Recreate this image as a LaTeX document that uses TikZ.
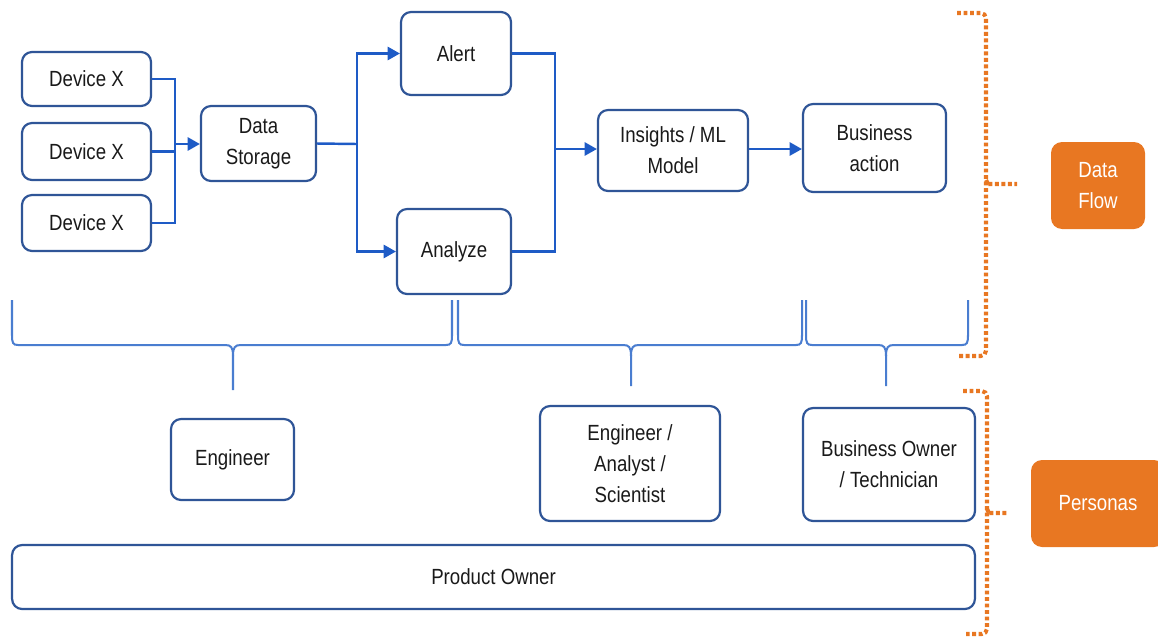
\documentclass[tikz,border=0pt]{standalone}
\usepackage{fontspec}
\setmainfont[FakeStretch=0.85]{Liberation Sans}
\usetikzlibrary{arrows.meta}
\definecolor{boxblue}{HTML}{2F5597}
\definecolor{linkblue}{HTML}{1E5BC6}
\definecolor{braceblue}{HTML}{4A7DD0}
\definecolor{persorange}{HTML}{E87722}
\definecolor{txt}{HTML}{1A1A1A}
\tikzset{
  box/.style={draw=boxblue, line width=1.25pt, rounded corners=0.2cm, fill=white,
    text=txt, align=center, font=\fontsize{12.5}{17.5}\selectfont, inner sep=2pt},
  tag/.style={fill=persorange, rounded corners=0.22cm, text=white, align=center,
    font=\fontsize{12.5}{17.5}\selectfont},
  link/.style={draw=linkblue, line width=1.4pt},
  arr/.style={link, -{Triangle[length=7pt,width=7.5pt]}},
  bracegroup/.style={draw=braceblue, line width=1.15pt},
  dotbracket/.style={draw=persorange, line width=2.3pt, dash pattern=on 2.2pt off 1.5pt, rounded corners=3pt}
}
% curly brace: left end, right end, tip position, tip depth
\newcommand\groupbrace[4]{%
  \draw[bracegroup] (#1,300) -- (#1,335) .. controls (#1,343) and ({#1+1},345) .. ({#1+6},345)
    -- ({#3-8},345) .. controls ({#3-2},345) and (#3,347) .. (#3,356) -- (#3,#4);
  \draw[bracegroup] (#3,356) .. controls (#3,347) and ({#3+2},345) .. ({#3+8},345)
    -- ({#2-6},345) .. controls ({#2-1},345) and (#2,343) .. (#2,335) -- (#2,300);
}
\begin{document}
\begin{tikzpicture}[x=0.02cm, y=-0.02cm]
\useasboundingbox (0,0) rectangle (1158,637);
\clip (0,0) rectangle (1158,637);

% data flow row
\node[box, minimum width=2.58cm, minimum height=1.08cm] (dev1) at (86.5,79) {Device X};
\node[box, minimum width=2.58cm, minimum height=1.14cm] (dev2) at (86.5,151.5) {Device X};
\node[box, minimum width=2.58cm, minimum height=1.12cm] (dev3) at (86.5,223) {Device X};
\node[box, minimum width=2.3cm, minimum height=1.5cm] (store) at (258.5,143.5) {Data\\Storage};
\node[box, minimum width=2.2cm, minimum height=1.66cm] (alert) at (456,53.5) {Alert};
\node[box, minimum width=2.28cm, minimum height=1.7cm] (analyze) at (454,251.5) {Analyze};
\node[box, minimum width=3.0cm, minimum height=1.62cm] (insights) at (673,150.5) {Insights / ML\\Model};
\node[box, minimum width=2.86cm, minimum height=1.76cm] (action) at (874.5,148) {Business\\action};

% personas row
\node[box, minimum width=2.46cm, minimum height=1.62cm] (eng) at (232.5,459.5) {Engineer};
\node[box, minimum width=3.6cm, minimum height=2.3cm] (eas) at (630,463.5) {Engineer /\\Analyst /\\Scientist};
\node[box, minimum width=3.44cm, minimum height=2.26cm] (bot) at (889,464.5) {Business Owner\\/ Technician};
\node[box, minimum width=19.26cm, minimum height=1.28cm] (po) at (493.5,577) {Product Owner};

% side labels
\node[tag, minimum width=1.88cm, minimum height=1.74cm] (flow) at (1098,185.5) {Data\\Flow};
\node[tag, minimum width=2.68cm, minimum height=1.74cm] (pers) at (1098,503.5) {Personas};

% connectors
\coordinate (jd) at (175,144);
\draw[link] (dev1.east) -| (jd);
\draw[link] (dev3.east) -| (jd);
\draw[link] (dev2.east) -- (dev2.east -| jd);
\draw[arr] (jd) -- (jd -| store.west);

\coordinate (js) at (357,144);
\draw[link] (store.east) -- (js);
\draw[arr] (js) |- (alert.west);
\draw[arr] (js) |- (analyze.west);

\coordinate (jm) at (555,149);
\draw[link] (alert.east) -| (jm);
\draw[link] (analyze.east) -| (jm);
\draw[arr] (jm) -- (jm -| insights.west);
\draw[arr] (insights.east |- jm) -- (jm -| action.west);

% grouping braces
\groupbrace{12}{452}{233}{390}
\groupbrace{458}{802}{631}{386}
\groupbrace{806}{968}{886}{386}

% dotted brackets
\draw[dotbracket] (957,13) -- (986,13) -- (986,356) -- (958,356);
\draw[dotbracket] (986,180) .. controls (988,184) .. (992,184) -- (1017,184);
\draw[dotbracket] (963,391) -- (987,391) -- (987,634) -- (966,634);
\draw[dotbracket] (987,509) .. controls (989,513) .. (993,513) -- (1008,513);
\end{tikzpicture}
\end{document}
